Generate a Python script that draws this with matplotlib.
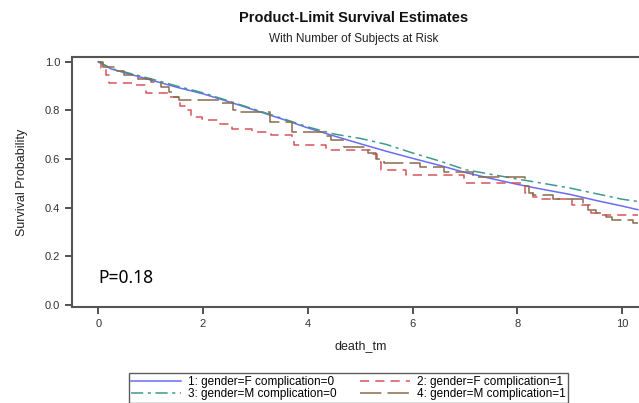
import matplotlib
matplotlib.use("Agg")
import matplotlib.pyplot as plt

plt.rcParams['font.family'] = ['Liberation Sans', 'DejaVu Sans']

# survival curves (time in death_tm units)
blue_t = [0, 0.25, 0.5, 1, 1.5, 2, 2.5, 3, 3.5, 4, 4.5, 5, 5.5, 6, 6.5, 7, 7.5, 8, 8.5, 9, 9.5, 10, 10.3]
blue_s = [1.0, 0.97, 0.955, 0.925, 0.895, 0.868, 0.835, 0.80, 0.765, 0.728, 0.695, 0.663, 0.632,
          0.603, 0.575, 0.545, 0.52, 0.496, 0.475, 0.455, 0.43, 0.407, 0.392]

green_t = blue_t
green_s = [1.0, 0.972, 0.958, 0.93, 0.90, 0.872, 0.838, 0.803, 0.768, 0.732, 0.703, 0.685, 0.66,
           0.625, 0.593, 0.557, 0.537, 0.518, 0.50, 0.481, 0.458, 0.435, 0.426]

red_t = [0, 0.05, 0.15, 0.2, 0.72, 0.92, 1.35, 1.57, 1.65, 1.77, 1.99, 2.09, 2.33, 2.56, 2.94, 3.3,
         3.7, 3.74, 4.35, 5.25, 5.32, 5.4, 5.87, 6.98, 8.15, 8.3, 8.4, 9.05, 9.4, 9.6, 10.3]
red_s = [1.0, 0.973, 0.945, 0.911, 0.904, 0.873, 0.856, 0.82, 0.80, 0.774, 0.766, 0.76, 0.744, 0.723,
         0.71, 0.70, 0.69, 0.658, 0.638, 0.62, 0.59, 0.555, 0.534, 0.50, 0.46, 0.445, 0.435, 0.411,
         0.38, 0.37, 0.37]

brown_t = [0, 0.1, 0.3, 0.5, 0.75, 1.0, 1.2, 1.35, 1.45, 1.54, 2.3, 2.58, 2.7, 3.28, 3.7, 4.3, 4.45,
           4.7, 5.15, 5.3, 5.45, 6.15, 6.6, 7.15, 8.15, 8.22, 8.3, 8.68, 9.25, 9.35, 9.5, 9.7, 9.8,
           10.2, 10.3]
brown_s = [1.0, 0.98, 0.96, 0.945, 0.93, 0.915, 0.897, 0.875, 0.855, 0.842, 0.83, 0.80, 0.795, 0.753,
           0.71, 0.695, 0.678, 0.65, 0.624, 0.60, 0.583, 0.568, 0.548, 0.527, 0.49, 0.46, 0.452,
           0.435, 0.41, 0.39, 0.38, 0.36, 0.349, 0.337, 0.337]

labels = ["1: gender=F complication=0", "2: gender=F complication=1",
          "3: gender=M complication=0", "4: gender=M complication=1"]

fig = plt.figure(figsize=(6.39, 4.03), dpi=100)
ax = fig.add_axes([0.1127, 0.238, 0.902, 0.621])

l1, = ax.plot(blue_t, blue_s, color="#6b6bf5", lw=1.1)
l2, = ax.plot(red_t, red_s, color="#d9535d", lw=1.1, drawstyle="steps-post", linestyle=(0, (6, 4)))
l3, = ax.plot(green_t, green_s, color="#3c9a8c", lw=1.1, linestyle=(0, (8, 3, 2, 3)))
l4, = ax.plot(brown_t, brown_s, color="#8c6a4c", lw=1.1, drawstyle="steps-post", linestyle=(0, (14, 4)))

ax.set_xlim(-0.5, 10.5)
ax.set_ylim(-0.008, 1.02)
ax.set_xticks([0, 2, 4, 6, 8, 10])
ax.set_yticks([0.0, 0.2, 0.4, 0.6, 0.8, 1.0])
ax.set_yticklabels(["0.0", "0.2", "0.4", "0.6", "0.8", "1.0"])
ax.tick_params(labelsize=8, colors="#333333", length=5, width=1.2)
for s in ax.spines.values():
    s.set_color("#555555")
    s.set_linewidth(1.5)

ax.set_xlabel("death_tm", fontsize=9, color="#222222", labelpad=8)
ax.set_ylabel("Survival Probability", fontsize=9, color="#222222", labelpad=12)

ax.text(0, 0.09, "P=0.18", fontsize=12.5, family="Noto Sans", color="black")

fig.text(0.554, 0.945, "Product-Limit Survival Estimates", ha="center", fontsize=10.5,
         fontweight="bold", color="#111111")
fig.text(0.554, 0.895, "With Number of Subjects at Risk", ha="center", fontsize=8.5, color="#222222")

# legend fills column-wise, so order handles to get 1,2 on top and 3,4 below
fig.legend([l1, l3, l2, l4], [labels[0], labels[2], labels[1], labels[3]], ncol=2,
           loc="upper center", bbox_to_anchor=(0.545, 0.088), fontsize=8.5, frameon=True,
           fancybox=False, edgecolor="#333333", handlelength=4.2, columnspacing=2.0,
           borderpad=0.2, labelspacing=0.05, handletextpad=0.6)

fig.savefig("out.png", dpi=100)
